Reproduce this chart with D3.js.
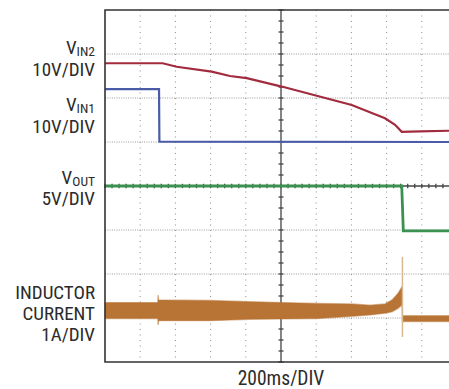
<!DOCTYPE html>
<html><head><meta charset="utf-8">
<script src="https://cdn.jsdelivr.net/npm/d3@7/dist/d3.min.js"></script>
<style>
html,body{margin:0;padding:0;background:#fff;}
svg{display:block;}
text{font-family:"Liberation Sans Narrow","Roboto Condensed","Liberation Sans",Arial,sans-serif;fill:#2b2b2b;font-weight:normal;}
</style></head>
<body>
<svg id="chart" width="449" height="389"></svg>
<script>
// time in ms (200 ms/DIV, 10 divisions), amplitude in screen divisions (-4..4, 8 divisions)
const xTicks = [0,200,400,600,800,1000,1200,1400,1600,1800,2000];
const yTicks = [-4,-3,-2,-1,0,1,2,3,4];
const xLabel = "200ms/DIV";

const vin2T = [0,328,407,606,710,805,1004,1203,1402,1523,1591,1648,1686,1790,2000];
const vin2V = [2.79,2.79,2.71,2.60,2.50,2.45,2.26,2.05,1.84,1.65,1.54,1.39,1.23,1.24,1.26];

const vin1T = [0,307,309,2000];
const vin1V = [2.20,2.20,1.01,1.00];

const voutT = [0,1686,1695,2000];
const voutV = [0.0,0.0,-1.02,-1.02];

const ilT   = [0,300,302,304,306,597,824,1004,1205,1403,1506,1591,1631,1665,1688,1690,2000];
const ilTop = [-2.65,-2.65,-2.48,-2.59,-2.59,-2.60,-2.63,-2.65,-2.67,-2.68,-2.71,-2.68,-2.59,-2.44,-2.29,-2.95,-2.95];
const ilBot = [-3.01,-3.01,-3.16,-3.06,-3.06,-3.06,-3.03,-3.02,-3.01,-2.96,-2.93,-2.89,-2.86,-2.78,-2.70,-3.08,-3.08];
const spikeT = [1690];
const spikeTop = [-1.61];
const spikeBot = [-3.43];

const labels = [
  {main:"V", sub:"IN2", unit:"10V/DIV"},
  {main:"V", sub:"IN1", unit:"10V/DIV"},
  {main:"V", sub:"OUT", unit:"5V/DIV"}
];
const ilLabel = ["INDUCTOR","CURRENT","1A/DIV"];

const colors = {vin2:"#a22b3e", vin1:"#4a5ba7", vout:"#3a9150", il:"#b87434", spike:"#d8b88e"};

const svg = d3.select("#chart");
const x = d3.scaleLinear().domain([0,2000]).range([105,457]);
const y = d3.scaleLinear().domain([-4,4]).range([362,10]);

// grid (dotted)
const g = svg.append("g");
g.selectAll(".vg").data(xTicks.filter(t=>t>0 && t<2000 && t!==1000)).enter().append("line")
  .attr("x1",d=>x(d)).attr("x2",d=>x(d)).attr("y1",y(4)).attr("y2",y(-4))
  .attr("stroke","#8a8a8a").attr("stroke-width",1).attr("stroke-dasharray","1,4.5");
g.selectAll(".hg").data(yTicks.filter(t=>t>-4 && t<4 && t!==0)).enter().append("line")
  .attr("y1",d=>y(d)).attr("y2",d=>y(d)).attr("x1",x(0)).attr("x2",x(2000))
  .attr("stroke","#9a9a9a").attr("stroke-width",1).attr("stroke-dasharray","1,1.3");

// center axes with minor ticks
g.append("line").attr("x1",x(1000)).attr("x2",x(1000)).attr("y1",y(4)).attr("y2",y(-4))
  .attr("stroke","#444").attr("stroke-width",1.3);
g.append("line").attr("y1",y(0)).attr("y2",y(0)).attr("x1",x(0)).attr("x2",x(2000))
  .attr("stroke","#444").attr("stroke-width",1.3);
const vMinor = d3.range(-4,4.001,0.25);
g.selectAll(".vt").data(vMinor).enter().append("line")
  .attr("x1",x(1000)-2.5).attr("x2",x(1000)+2.5).attr("y1",d=>y(d)).attr("y2",d=>y(d))
  .attr("stroke","#444").attr("stroke-width",1.3);
const hMinor = d3.range(0,2000.1,40);
g.selectAll(".ht").data(hMinor).enter().append("line")
  .attr("y1",y(0)-2.2).attr("y2",y(0)+2.2).attr("x1",d=>x(d)).attr("x2",d=>x(d))
  .attr("stroke","#444").attr("stroke-width",1.3);

// traces
const line = d3.line().x(d=>x(d[0])).y(d=>y(d[1]));
const zip = (a,b)=>a.map((t,i)=>[t,b[i]]);

// inductor current band
const band = ilT.map((t,i)=>({t, top:ilTop[i], bot:ilBot[i]}));
svg.append("path").datum(band)
  .attr("d", d3.area().x(d=>x(d.t)).y0(d=>y(d.bot)).y1(d=>y(d.top)))
  .attr("fill",colors.il).attr("stroke",colors.il).attr("stroke-width",1.4).attr("stroke-opacity",0.5);
svg.selectAll(".spk").data(spikeT).enter().append("line")
  .attr("x1",d=>x(d)).attr("x2",d=>x(d))
  .attr("y1",(d,i)=>y(spikeTop[i])).attr("y2",(d,i)=>y(spikeBot[i]))
  .attr("stroke",colors.spike).attr("stroke-width",1.5);

svg.append("path").datum(zip(voutT,voutV)).attr("d",line)
  .attr("fill","none").attr("stroke",colors.vout).attr("stroke-width",2.8);
svg.append("path").datum(zip(vin1T,vin1V)).attr("d",line)
  .attr("fill","none").attr("stroke",colors.vin1).attr("stroke-width",2.2);
svg.append("path").datum(zip(vin2T,vin2V)).attr("d",line)
  .attr("fill","none").attr("stroke",colors.vin2).attr("stroke-width",2.2);

// frame (left, top, bottom)
svg.append("path")
  .attr("d",`M${x(2000)},${y(4)}H${x(0)}V${y(-4)}H${x(2000)}`)
  .attr("fill","none").attr("stroke","#333").attr("stroke-width",1.6);

// labels
const lx = 95;
const lbl = svg.append("g");
const vBase = [54,111,184];
const uBase = [76,133,205];
labels.forEach((l,i)=>{
  const t = lbl.append("text").attr("x",lx).attr("y",vBase[i]).attr("text-anchor","end").style("font-size","19px");
  t.append("tspan").text(l.main);
  t.append("tspan").text(l.sub).attr("dy",1.5).style("font-size","13.5px");
  lbl.append("text").attr("x",lx).attr("y",uBase[i]).attr("text-anchor","end").style("font-size","19px").text(l.unit);
});
const ilBase = [299,320,341];
ilLabel.forEach((s,i)=>{
  lbl.append("text").attr("x",lx).attr("y",ilBase[i]).attr("text-anchor","end").style("font-size","19px").text(s);
});
svg.append("text").attr("x",x(1000)).attr("y",385).attr("text-anchor","middle").style("font-size","19.5px").text(xLabel);
</script>
</body></html>
